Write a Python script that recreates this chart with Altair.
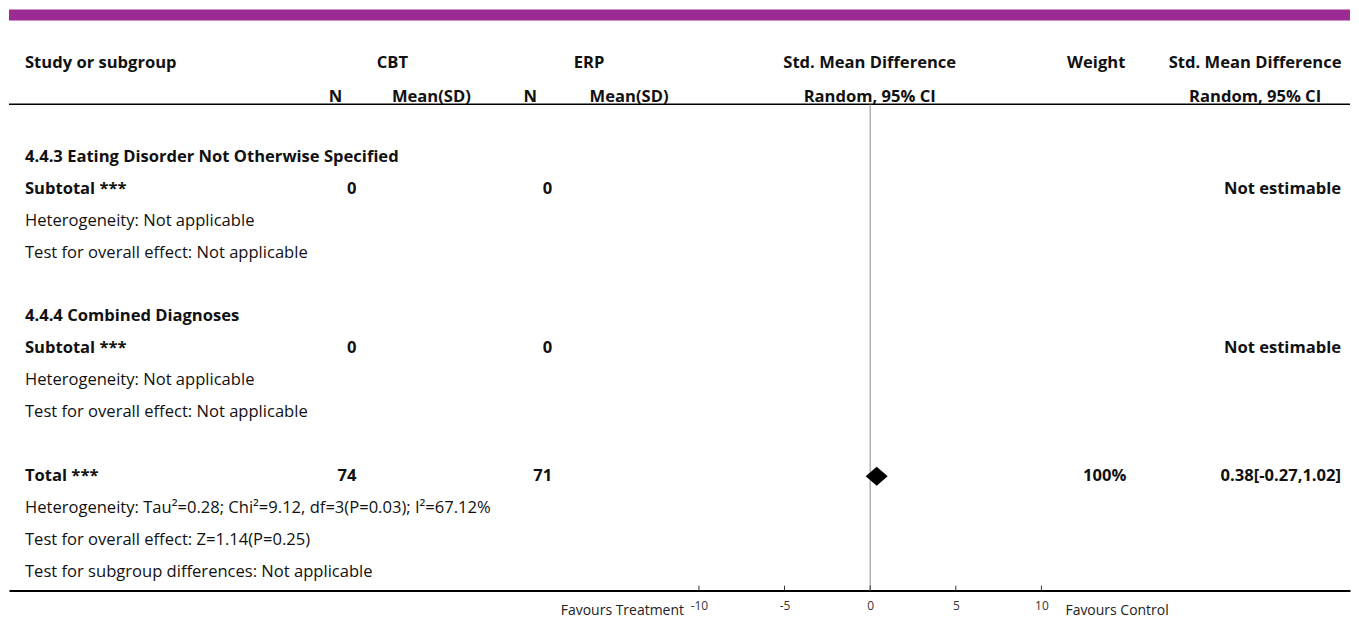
import altair as alt
import pandas as pd

# ---- data ----
row_labels = [
    "4.4.3 Eating Disorder Not Otherwise Specified",
    "Subtotal ***",
    "Heterogeneity: Not applicable",
    "Test for overall effect: Not applicable",
    "",
    "4.4.4 Combined Diagnoses",
    "Subtotal ***",
    "Heterogeneity: Not applicable",
    "Test for overall effect: Not applicable",
    "",
    "Total ***",
    "Heterogeneity: Tau\u00b2=0.28; Chi\u00b2=9.12, df=3(P=0.03); I\u00b2=67.12%",
    "Test for overall effect: Z=1.14(P=0.25)",
    "Test for subgroup differences: Not applicable",
]
row_bold = [1, 1, 0, 0, 0, 1, 1, 0, 0, 0, 1, 0, 0, 0]
cbt_n = ["", "0", "", "", "", "", "0", "", "", "", "74", "", "", ""]
erp_n = ["", "0", "", "", "", "", "0", "", "", "", "71", "", "", ""]
weights = ["", "", "", "", "", "", "", "", "", "", "100%", "", "", ""]
effects = ["", "Not estimable", "", "", "", "", "Not estimable", "", "", "", "0.38[-0.27,1.02]", "", "", ""]

total_est = [0.38]
total_lo = [-0.27]
total_hi = [1.02]
total_row_name = ["Total ***"]

axis_ticks = [-10, -5, 0, 5, 10]

header_top = ["Study or subgroup", "CBT", "ERP", "Std. Mean Difference", "Weight", "Std. Mean Difference"]
header_sub = ["N", "Mean(SD)", "N", "Mean(SD)", "Random, 95% CI", "Random, 95% CI"]
favours = ["Favours Treatment", "Favours Control"]

# ---- tables ----
rows = pd.DataFrame({
    "row": list(range(len(row_labels))),
    "label": row_labels,
    "bold": row_bold,
    "cbt_n": cbt_n,
    "erp_n": erp_n,
    "weight": weights,
    "effect": effects,
})
idx = row_labels.index(total_row_name[0])
diamond = pd.DataFrame({"row": [idx], "est": total_est, "lo": total_lo, "hi": total_hi})
ticks = pd.DataFrame({"t": axis_ticks})

W, H = 1343, 583
FONT = "Open Sans"
FS = 16.6
INK = "#111111"

yscale = alt.Scale(domain=[-4.64, 13.58], reverse=True, nice=False, zero=False)
xscale = alt.Scale(domain=[-50.29, 28.02], nice=False, zero=False)
xaxis = alt.Axis(values=axis_ticks, ticks=False, tickSize=0, grid=False, title=None,
                 domainColor="#000000", domainWidth=2, labelFont=FONT, labelFontSize=12,
                 labelColor="#333333", labelPadding=10, labelExpr="'' + datum.value")
Y = alt.Y("row:Q", scale=yscale, axis=None)

base = alt.Chart(rows)


def col_text(field, xpx, align, bold=False):
    return base.mark_text(align=align, baseline="middle", font=FONT, fontSize=FS, color=INK,
                          fontWeight="bold" if bold else "normal").encode(
        x=alt.value(xpx), y=Y, text=f"{field}:N")


label_bold = base.transform_filter("datum.bold == 1").mark_text(
    align="left", baseline="middle", font=FONT, fontSize=FS, color=INK, fontWeight="bold"
).encode(x=alt.value(16), y=Y, text="label:N")
label_norm = base.transform_filter("datum.bold == 0").mark_text(
    align="left", baseline="middle", font=FONT, fontSize=FS, color=INK
).encode(x=alt.value(16), y=Y, text="label:N")

cbt_layer = col_text("cbt_n", 348, "right", bold=True)
erp_layer = col_text("erp_n", 544, "right", bold=True)
w_layer = col_text("weight", 1119, "right", bold=True)
eff_layer = col_text("effect", 1334, "right", bold=True)

# headers
hdr_x = [16, 384, 581, 862, 1118, 1248, 327, 423, 522, 621, 862, 1248]
hdr_align = ["left", "center", "center", "center", "right", "center",
             "center", "center", "center", "center", "center", "center"]
hdr_y = [55] * 6 + [89] * 6
hdr_layers = []
for t, xx, al, yy in zip(header_top + header_sub, hdr_x, hdr_align, hdr_y):
    hdr_layers.append(
        alt.Chart(pd.DataFrame({"text": [t]})).mark_text(
            align=al, baseline="middle", font=FONT, fontSize=FS, color=INK, fontWeight="bold"
        ).encode(x=alt.value(xx), y=alt.value(yy), text="text:N")
    )

# decorations
purple = alt.Chart(pd.DataFrame({"a": [0]})).mark_rect(color="#9b2a93").encode(
    x=alt.value(0), x2=alt.value(W), y=alt.value(1), y2=alt.value(12))
hline = alt.Chart(pd.DataFrame({"a": [0]})).mark_rule(color="#000000", strokeWidth=1.5).encode(
    x=alt.value(0), x2=alt.value(W), y=alt.value(96))
zero_line = alt.Chart(pd.DataFrame({"z": [0]})).mark_rule(color="#8c8c8c", strokeWidth=1).encode(
    x=alt.X("z:Q", scale=xscale, axis=xaxis), y=alt.value(96), y2=alt.value(H))
tick_marks = alt.Chart(ticks).mark_rule(color="#333333", strokeWidth=1).encode(
    x=alt.X("t:Q", scale=xscale, axis=xaxis), y=alt.value(H - 5), y2=alt.value(H))

diamond_shape = "M-1,0L0,-0.86L1,0L0,0.86Z"
diam = alt.Chart(diamond).mark_point(shape=diamond_shape, filled=True, size=484, color="#000000",
                                     opacity=1).encode(
    x=alt.X("est:Q", scale=xscale, axis=xaxis), y=Y)

fav = pd.DataFrame({"text": favours})
fav_t = alt.Chart(fav.iloc[[0]]).mark_text(align="right", baseline="middle", font=FONT, fontSize=14,
                                           color="#222222").encode(
    x=alt.value(676), y=alt.value(H + 20), text="text:N")
fav_c = alt.Chart(fav.iloc[[1]]).mark_text(align="left", baseline="middle", font=FONT, fontSize=14,
                                           color="#222222").encode(
    x=alt.value(1058), y=alt.value(H + 20), text="text:N")

chart = alt.layer(
    purple, hline, zero_line, tick_marks, diam,
    label_bold, label_norm, cbt_layer, erp_layer, w_layer, eff_layer,
    *hdr_layers, fav_t, fav_c,
).properties(width=W, height=H, padding=0).configure_view(stroke=None)

chart.save("out.html", embed_options={"renderer": "svg", "actions": False})
